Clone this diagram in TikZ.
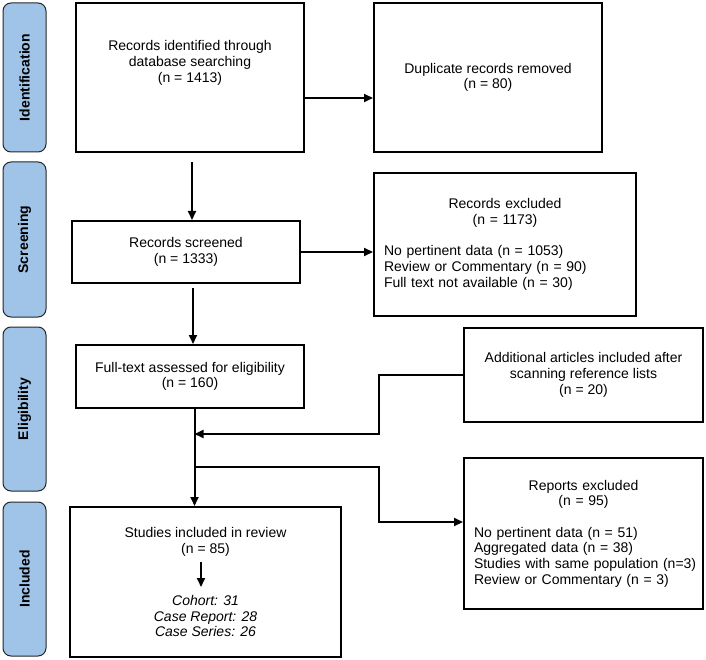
\documentclass[tikz,border=0pt]{standalone}
\usepackage{fontspec}
\setmainfont{Liberation Sans}
\usetikzlibrary{arrows.meta}
\definecolor{stageblue}{RGB}{160,196,232}
\begin{document}
\begin{tikzpicture}[x=1pt,y=-1pt,
  font=\fontsize{14}{15.7}\selectfont,
  box/.style={draw=black,line width=2pt,align=center,inner sep=0pt},
  listbox/.style={box,align=left,inner xsep=10pt},
  stage/.style={draw=black!85,line width=1pt,fill=stageblue,rounded corners=8pt,rotate=90,
    minimum height=43pt,font=\fontsize{14}{15.7}\selectfont\bfseries},
  arr/.style={line width=2pt,-{Triangle[length=9pt,width=8pt]}}]
\useasboundingbox (0,0) rectangle (706,660);
% the stages on the left
\foreach \stagename/\y/\h in {Identification/77.5/149,Screening/239.5/155,Eligibility/409/164,Included/579/154}
  \node[stage,minimum width=\h pt] (\stagename) at (24.5,\y) {\stagename};
% the boxes of the flow
\node[box,minimum width=228pt,minimum height=149pt,text depth=32pt] (ident) at (190,77.5)
  {Records identified through\\database searching\\(n = 1413)};
\node[box,minimum width=228pt,minimum height=149pt] (dupl) at (488,77.5)
  {Duplicate records removed\\(n = 80)};
\node[box,minimum width=228pt,minimum height=62pt] (screen) at (186,252)
  {Records screened\\(n = 1333)};
\node[listbox,text width=242pt,minimum height=143pt] (excl) at (505,244.5)
  {\makebox[\hsize]{Records excluded}\\\makebox[\hsize]{(n = 1173)}\\[15.7pt]No pertinent data (n = 1053)\\Review or Commentary (n = 90)\\Full text not available (n = 30)};
\node[box,minimum width=228pt,minimum height=63pt] (full) at (190,376.5)
  {Full-text assessed for eligibility\\(n = 160)};
\node[box,minimum width=239pt,minimum height=94pt] (addl) at (583.5,375)
  {Additional articles included after\\scanning reference lists\\(n = 20)};
\node[box,minimum width=271pt,minimum height=150pt] (incl) at (205.5,582)
  {Studies included in review\\(n = 85)\\[36.6pt]\textit{Cohort: 31}\\\textit{Case Report: 28}\\\textit{Case Series: 26}};
\node[listbox,text width=219pt,minimum height=151pt] (rept) at (583.5,533.5)
  {\makebox[\hsize]{Reports excluded}\\\makebox[\hsize]{(n = 95)}\\[15.7pt]No pertinent data (n = 51)\\Aggregated data (n = 38)\\\mbox{Studies with same population (n=3)}\\Review or Commentary (n = 3)};
% the arrows between the boxes
\draw[arr] ([yshift=-20.5pt]ident.east) -- ([yshift=-20.5pt]ident.east -| dupl.west);
\draw[arr,shorten <=9pt] ([xshift=2pt]ident.south) -- ([xshift=2pt]ident.south |- screen.north);
\draw[arr] (screen.east) -- (screen.east -| excl.west);
\draw[arr,shorten <=4pt] ([xshift=7pt]screen.south) -- ([xshift=7pt]screen.south |- full.north);
\draw[arr] ([xshift=4.5pt]full.south) -- ([xshift=4.5pt]full.south |- incl.north);
% the side branches
\coordinate (join) at (194.5,434);
\coordinate (fork) at (194.5,467);
\draw[arr] (addl.west) -- ++(-84,0) |- (join);
\draw[arr] (fork) -- ++(184.5,0) |- ([yshift=11.5pt]rept.west);
% the split of the included studies
\coordinate (typetop) at (201,562);
\coordinate (typebot) at (201,587);
\draw[arr] (typetop) -- (typebot);
\end{tikzpicture}
\end{document}
